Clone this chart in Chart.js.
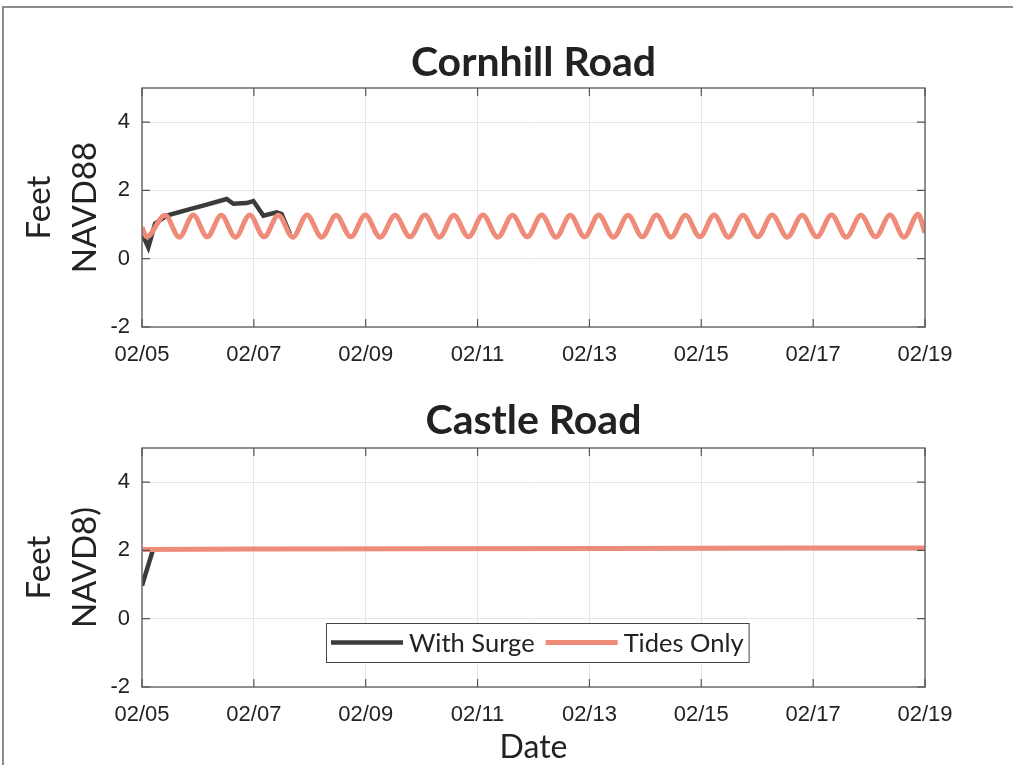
<!DOCTYPE html>
<html>
<head>
<meta charset="utf-8">
<script src="https://cdn.jsdelivr.net/npm/chart.js@4.4.0/dist/chart.umd.min.js"></script>
<style>
body{margin:0;background:#fff;width:1013px;height:765px;overflow:hidden;position:relative}
#frame{position:absolute;left:2px;top:6px;width:1030px;height:800px;border-top:2px solid #8c8c8c;border-left:2px solid #8c8c8c}
.box{position:absolute;left:0;width:1013px}
#b1{top:0;height:385px}
#b2{top:385px;height:380px}
</style>
</head>
<body>
<div id="frame"></div>
<div class="box" id="b1"><canvas id="cornhill" width="1013" height="385"></canvas></div>
<div class="box" id="b2"><canvas id="castle" width="1013" height="380"></canvas></div>
<script>
// x values are hours after 02/05 00:00
var dateLabels = ['02/05','02/07','02/09','02/11','02/13','02/15','02/17','02/19'];
var yTicks = [-2, 0, 2, 4];

// Cornhill Road
var cornSurgeHours = [0, 2.7, 5.6, 10.6, 20.6, 27.0, 36.3, 39.2, 44.9, 47.8, 52.1, 57.8, 59.9, 63.5];
var cornSurgeFeet  = [0.75, 0.33, 1.03, 1.26, 1.45, 1.57, 1.75, 1.61, 1.63, 1.69, 1.26, 1.36, 1.31, 0.73];

var cornTideHours = [0, 2.0, 9.9, 16.0, 22.0, 28.0, 34.0, 40.1, 46.2, 52.4, 58.5, 64.7, 70.8, 77.1,
  83.3, 89.6, 95.8, 102.2, 108.6, 115.0, 121.4, 127.6, 133.8, 140.1, 146.3, 152.7, 159.0, 165.3,
  171.5, 177.7, 183.8, 189.9, 196.0, 202.3, 208.6, 214.7, 220.8, 227.0, 233.2, 239.4, 245.5, 251.7,
  257.9, 264.2, 270.4, 276.9, 283.3, 289.6, 295.9, 302.2, 308.5, 314.8, 321.0, 327.0, 333.0, 336];
var cornTideFeet = [0.92, 0.64, 1.27, 0.63, 1.28, 0.64, 1.27, 0.63, 1.28, 0.64, 1.27, 0.63, 1.28, 0.63,
  1.27, 0.64, 1.28, 0.63, 1.27, 0.64, 1.28, 0.63, 1.27, 0.64, 1.28, 0.63, 1.27, 0.64,
  1.28, 0.63, 1.27, 0.64, 1.28, 0.63, 1.27, 0.64, 1.28, 0.63, 1.27, 0.64, 1.28, 0.63,
  1.27, 0.64, 1.28, 0.63, 1.27, 0.64, 1.28, 0.63, 1.27, 0.64, 1.28, 0.63, 1.30, 0.76];

// Castle Road
var castleSurgeHours = [0, 4.5];
var castleSurgeFeet  = [0.97, 1.97];
var castleTideHours = [0.4, 48, 120, 200, 280, 336];
var castleTideFeet  = [2.03, 2.04, 2.05, 2.06, 2.07, 2.07];

var surgeColor = '#3b3b3b';
var tideColor = '#ef8b79';

function pts(xs, ys) {
    return xs.map(function (x, i) { return {x: x, y: ys[i]}; });
}

function tickLabel(v) {
    return dateLabels[Math.round(v / 48)];
}

// MATLAB style box with inward ticks
var boxPlugin = {
    id: 'matlabBox',
    afterDraw: function (chart) {
        var ctx = chart.ctx, ca = chart.chartArea;
        var xs = chart.scales.x, ys = chart.scales.y;
        ctx.save();
        ctx.strokeStyle = '#6e6e6e';
        ctx.lineWidth = 1.5;
        ctx.strokeRect(ca.left, ca.top, ca.right - ca.left, ca.bottom - ca.top);
        ctx.strokeStyle = '#555';
        ctx.lineWidth = 1.2;
        ctx.beginPath();
        xs.ticks.forEach(function (t) {
            var px = xs.getPixelForValue(t.value);
            ctx.moveTo(px, ca.bottom); ctx.lineTo(px, ca.bottom - 8);
            ctx.moveTo(px, ca.top); ctx.lineTo(px, ca.top + 8);
        });
        ys.ticks.forEach(function (t) {
            var py = ys.getPixelForValue(t.value);
            ctx.moveTo(ca.left, py); ctx.lineTo(ca.left + 8, py);
            ctx.moveTo(ca.right, py); ctx.lineTo(ca.right - 8, py);
        });
        ctx.stroke();
        ctx.restore();
    }
};

var legendPlugin = {
    id: 'insideLegend',
    afterDraw: function (chart) {
        var ctx = chart.ctx, ca = chart.chartArea;
        var items = chart.data.datasets.map(function (d) { return {label: d.label, color: d.borderColor, w: d.borderWidth}; });
        ctx.save();
        ctx.font = '25.5px Lato';
        var lineLen = 72, gap = 6, sep = 11, pad = 5;
        var w = pad * 2;
        items.forEach(function (it, i) {
            w += lineLen + gap + ctx.measureText(it.label).width + (i ? sep : 0);
        });
        var h = 39;
        var x0 = Math.round((ca.left + ca.right) / 2 + 4 - w / 2);
        var y0 = Math.round(ca.bottom - 64);
        ctx.fillStyle = '#fff';
        ctx.fillRect(x0, y0, w, h);
        ctx.strokeStyle = '#444';
        ctx.lineWidth = 1;
        ctx.strokeRect(x0 + 0.5, y0 + 0.5, w, h);
        var x = x0 + pad, yc = y0 + h / 2;
        items.forEach(function (it, i) {
            if (i) x += sep;
            ctx.strokeStyle = it.color;
            ctx.lineWidth = it.w;
            ctx.beginPath();
            ctx.moveTo(x, yc); ctx.lineTo(x + lineLen, yc);
            ctx.stroke();
            x += lineLen + gap;
            ctx.fillStyle = '#222';
            ctx.textBaseline = 'middle';
            ctx.fillText(it.label, x, yc + 1);
            x += ctx.measureText(it.label).width;
        });
        ctx.restore();
    }
};

function makeOptions(title, topHeight, titlePadTop, yTitle, xHeight, showDate) {
    return {
        responsive: false,
        animation: false,
        layout: {padding: {left: 10, right: 88, top: 0, bottom: 0}},
        plugins: {
            legend: {display: false},
            tooltip: {enabled: false}
        },
        elements: {point: {radius: 0}},
        scales: {
            // top axis only carries the panel title, centred over the plot
            top: {
                type: 'linear',
                position: 'top',
                min: 0,
                max: 336,
                afterFit: function (s) { s.height = topHeight; },
                ticks: {display: false},
                grid: {display: false, drawTicks: false},
                border: {display: false},
                title: {
                    display: true,
                    text: title,
                    color: '#222',
                    font: {family: 'Lato', size: 41, weight: 'bold', lineHeight: 1.2},
                    padding: {top: titlePadTop, bottom: 0}
                }
            },
            x: {
                type: 'linear',
                min: 0,
                max: 336,
                afterFit: function (s) { s.height = xHeight; },
                ticks: {
                    stepSize: 48,
                    autoSkip: false,
                    maxRotation: 0,
                    padding: 15,
                    color: '#222',
                    font: {family: 'Liberation Sans', size: 22},
                    callback: tickLabel
                },
                grid: {color: '#e6e6e6', drawTicks: false},
                border: {display: false},
                title: {
                    display: showDate,
                    text: 'Date',
                    color: '#222',
                    font: {family: 'Lato', size: 32, lineHeight: 1.1},
                    padding: {top: 6, bottom: 0}
                }
            },
            y: {
                min: -2,
                max: 5,
                afterBuildTicks: function (s) {
                    s.ticks = yTicks.map(function (v) { return {value: v}; });
                },
                afterFit: function (s) { s.width = 132; },
                ticks: {
                    padding: 12,
                    color: '#222',
                    font: {family: 'Liberation Sans', size: 22}
                },
                grid: {color: '#e6e6e6', drawTicks: false},
                border: {display: false},
                title: {
                    display: true,
                    text: yTitle,
                    color: '#222',
                    font: {family: 'Lato', size: 33, lineHeight: 1.4},
                    padding: {top: 6, bottom: 0}
                }
            }
        }
    };
}

var cornhill = new Chart(document.getElementById('cornhill'), {
    type: 'line',
    data: {
        datasets: [{
            label: 'With Surge',
            data: pts(cornSurgeHours, cornSurgeFeet),
            borderColor: surgeColor,
            borderWidth: 4.5,
            fill: false,
            tension: 0,
            order: 1
        },
        {
            label: 'Tides Only',
            data: pts(cornTideHours, cornTideFeet),
            borderColor: tideColor,
            borderWidth: 5,
            fill: false,
            cubicInterpolationMode: 'monotone',
            order: 0
        }]
    },
    options: makeOptions('Cornhill Road', 88, 38, ['Feet', 'NAVD88'], 58, false),
    plugins: [boxPlugin]
});

var castle = new Chart(document.getElementById('castle'), {
    type: 'line',
    data: {
        datasets: [{
            label: 'With Surge',
            data: pts(castleSurgeHours, castleSurgeFeet),
            borderColor: surgeColor,
            borderWidth: 4.5,
            fill: false,
            order: 1
        },
        {
            label: 'Tides Only',
            data: pts(castleTideHours, castleTideFeet),
            borderColor: tideColor,
            borderWidth: 5,
            fill: false,
            order: 0
        }]
    },
    options: makeOptions('Castle Road', 63, 11, ['Feet', 'NAVD8)'], 78, true),
    plugins: [boxPlugin, legendPlugin]
});
</script>
</body>
</html>
